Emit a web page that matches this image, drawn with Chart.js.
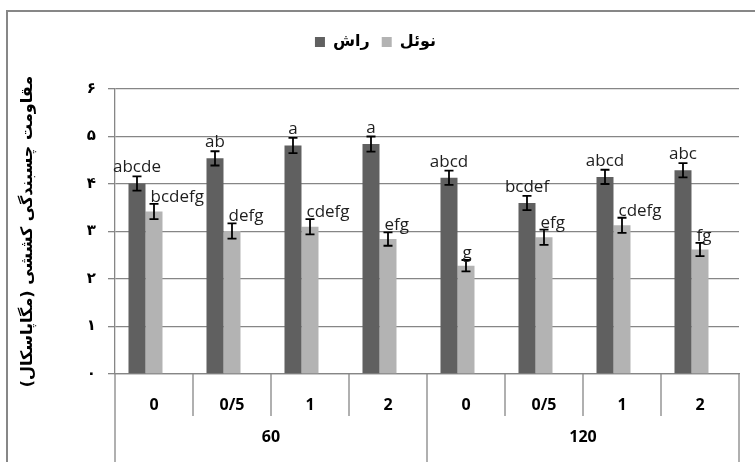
<!DOCTYPE html>
<html>
<head>
<meta charset="utf-8">
<script src="https://cdn.jsdelivr.net/npm/chart.js@4.4.0/dist/chart.umd.min.js"></script>
<style>
    html, body { margin: 0; padding: 0; background: #fff; overflow: hidden; }
    #chart-box { position: absolute; left: 0; top: 0; width: 755px; height: 462px; }
    #frame { position: absolute; left: 6px; top: 10px; width: 800px; height: 500px;
             border-top: 2px solid #878787; border-left: 2px solid #878787; pointer-events: none; }
</style>
</head>
<body>
<div id="chart-box"><canvas id="tensileChart"></canvas></div>
<div id="frame"></div>
<script>
        // Data
        const doses = ['0', '0/5', '1', '2', '0', '0/5', '1', '2'];
        const groups = ['60', '120'];
        const seriesNames = ['راش', 'نوئل'];
        const rashValues = [4.01, 4.54, 4.81, 4.84, 4.13, 3.60, 4.15, 4.29];
        const noelValues = [3.42, 3.01, 3.10, 2.84, 2.28, 2.88, 3.13, 2.62];
        const rashErrors = [0.15, 0.15, 0.16, 0.16, 0.15, 0.15, 0.15, 0.15];
        const noelErrors = [0.16, 0.16, 0.16, 0.14, 0.12, 0.16, 0.16, 0.14];
        const rashLetters = ['abcde', 'ab', 'a', 'a', 'abcd', 'bcdef', 'abcd', 'abc'];
        const noelLetters = ['bcdefg', 'defg', 'cdefg', 'efg', 'g', 'efg', 'cdefg', 'fg'];
        const yTickLabels = ['۰', '۱', '۲', '۳', '۴', '۵', '۶'];
        const yTitle = 'مقاومت چسبندگی کششی (مگاپاسکال)\u200F';

        const gridColor = '#868686';
        const errors = [rashErrors, noelErrors];
        const letters = [rashLetters, noelLetters];

        // Make the legend take the space down to the top of the plot
        const legendSpace = {
            id: 'legendSpace',
            beforeInit(chart) {
                const fit = chart.legend.fit;
                chart.legend.fit = function () {
                    fit.call(this);
                    this.height = 67;
                };
            }
        };

        // Error bars and letter labels
        const errorBars = {
            id: 'errorBars',
            afterDatasetsDraw(chart) {
                const ctx = chart.ctx;
                const yScale = chart.scales.y;
                ctx.save();
                for (let d = 0; d < 2; d++) {
                    const meta = chart.getDatasetMeta(d);
                    const values = chart.data.datasets[d].data;
                    meta.data.forEach((bar, i) => {
                        const top = yScale.getPixelForValue(values[i] + errors[d][i]);
                        const bottom = yScale.getPixelForValue(values[i] - errors[d][i]);
                        ctx.strokeStyle = '#000';
                        ctx.lineWidth = 1.8;
                        ctx.beginPath();
                        ctx.moveTo(bar.x, top);
                        ctx.lineTo(bar.x, bottom);
                        ctx.moveTo(bar.x - 4.5, top);
                        ctx.lineTo(bar.x + 4.5, top);
                        ctx.moveTo(bar.x - 4.5, bottom);
                        ctx.lineTo(bar.x + 4.5, bottom);
                        ctx.stroke();

                        ctx.fillStyle = '#1e1e1e';
                        ctx.font = '17px "Open Sans"';
                        ctx.textBaseline = 'alphabetic';
                        if (d === 0) {
                            ctx.textAlign = 'center';
                            ctx.fillText(letters[d][i], bar.x, top - 4);
                        } else {
                            ctx.textAlign = 'left';
                            ctx.fillText(letters[d][i], bar.x - bar.width / 2 + 5, top - 2);
                        }
                    });
                }
                ctx.restore();
            }
        };

        // Two level category axis: dividers and group labels
        const groupAxis = {
            id: 'groupAxis',
            afterDraw(chart) {
                const ctx = chart.ctx;
                const x = chart.scales.x;
                const n = doses.length;
                const step = (x.right - x.left) / n;
                const perGroup = n / groups.length;
                ctx.save();
                ctx.strokeStyle = gridColor;
                ctx.lineWidth = 1.3;
                for (let i = 0; i <= n; i++) {
                    const px = x.left + i * step;
                    const end = (i % perGroup === 0) ? chart.height : x.top + 42;
                    ctx.beginPath();
                    ctx.moveTo(px, x.top);
                    ctx.lineTo(px, end);
                    ctx.stroke();
                }
                ctx.fillStyle = '#000';
                ctx.font = 'bold 16px "Open Sans"';
                ctx.textAlign = 'center';
                ctx.textBaseline = 'middle';
                groups.forEach((g, k) => {
                    const cx = x.left + (k + 0.5) * perGroup * step;
                    ctx.fillText(g, cx, x.top + 63);
                });
                ctx.restore();
            }
        };

        const ctx = document.getElementById('tensileChart').getContext('2d');
        const tensileChart = new Chart(ctx, {
            type: 'bar',
            data: {
                labels: doses,
                datasets: [{
                    label: seriesNames[0],
                    data: rashValues,
                    backgroundColor: '#606060',
                    borderWidth: 0
                }, {
                    label: seriesNames[1],
                    data: noelValues,
                    backgroundColor: '#b3b3b3',
                    borderWidth: 0
                }, {
                    // empty third series of the original sheet, it keeps the bars off centre
                    label: '',
                    data: doses.map(() => null),
                    backgroundColor: 'rgba(0,0,0,0)'
                }]
            },
            options: {
                responsive: true,
                maintainAspectRatio: false,
                animation: false,
                categoryPercentage: 0.654,
                barPercentage: 1.0,
                layout: {
                    padding: { left: 12, right: 16, top: 22, bottom: 0 }
                },
                scales: {
                    x: {
                        grid: { display: false },
                        border: { display: true, color: gridColor, width: 1.3 },
                        ticks: {
                            color: '#000',
                            padding: 14,
                            font: { family: 'Open Sans', size: 16, weight: 'bold' }
                        },
                        afterFit: function (scale) {
                            scale.height = 88;
                        }
                    },
                    y: {
                        min: 0,
                        max: 6,
                        ticks: {
                            stepSize: 1,
                            color: '#000',
                            padding: 12,
                            font: { family: 'DejaVu Sans', size: 15, weight: 'bold' },
                            callback: function (value) {
                                return yTickLabels[value];
                            }
                        },
                        grid: { color: gridColor, lineWidth: 1.3, tickLength: 7 },
                        border: { display: true, color: gridColor, width: 1.3 },
                        title: {
                            display: true,
                            text: yTitle,
                            color: '#000',
                            padding: { top: 6, bottom: 0 },
                            font: { family: 'DejaVu Sans', size: 16, weight: 'bold' }
                        },
                        afterFit: function (scale) {
                            scale.width = 103;
                        }
                    }
                },
                plugins: {
                    legend: {
                        position: 'top',
                        labels: {
                            boxWidth: 10,
                            boxHeight: 10,
                            padding: 12,
                            color: '#000',
                            font: { family: 'DejaVu Sans', size: 16, weight: 'bold' },
                            filter: item => item.text !== ''
                        }
                    },
                    tooltip: { enabled: false }
                }
            },
            plugins: [legendSpace, errorBars, groupAxis]
        });
</script>
</body>
</html>
